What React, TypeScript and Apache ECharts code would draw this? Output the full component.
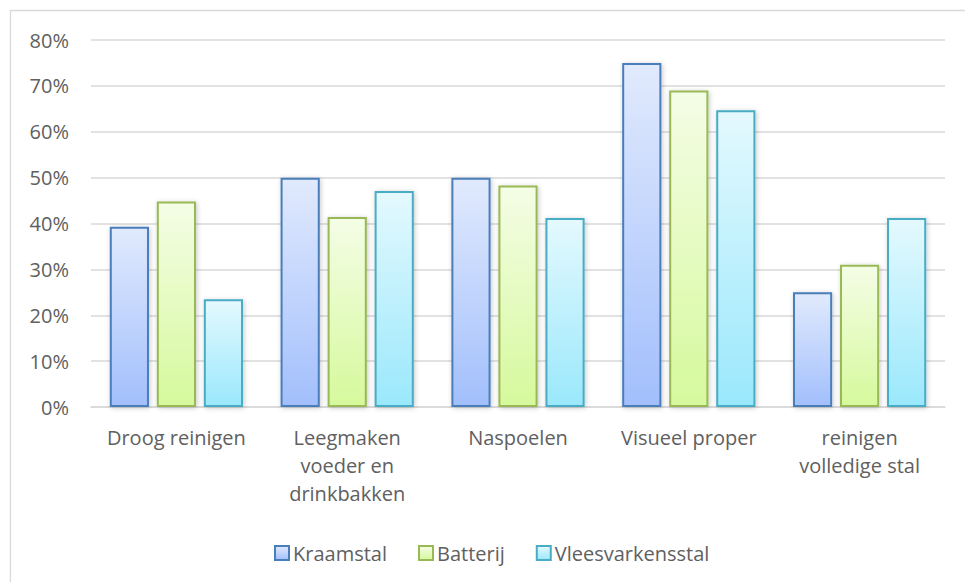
import React, { useEffect, useRef } from "react";
import * as echarts from "echarts";

const categories = [
  "Droog reinigen",
  "Leegmaken\nvoeder en\ndrinkbakken",
  "Naspoelen",
  "Visueel proper",
  "reinigen\nvolledige stal",
];
const seriesNames = ["Kraamstal", "Batterij", "Vleesvarkensstal"];
const kraamstal = [0.393, 0.5, 0.5, 0.75, 0.25];
const batterij = [0.448, 0.414, 0.483, 0.69, 0.31];
const vleesvarkensstal = [0.235, 0.471, 0.412, 0.647, 0.412];
const yTicks = [0, 0.1, 0.2, 0.3, 0.4, 0.5, 0.6, 0.7, 0.8];

const palettes = [
  { border: "#4a7ebb", top: "#e1eafd", bottom: "#a2bffc" },
  { border: "#98b954", top: "#f4fde6", bottom: "#d6f99c" },
  { border: "#4aacc5", top: "#e4f9fe", bottom: "#9ae8fc" },
];

const FONT = "'Open Sans', 'Noto Sans', sans-serif";
const TEXT = "#606060";

export default function App() {
  const ref = useRef<HTMLDivElement>(null);
  useEffect(() => {
    if (!ref.current) return;
    const chart = echarts.init(ref.current, null, { renderer: "svg" });
    const values = [kraamstal, batterij, vleesvarkensstal];
    const series = seriesNames.map((name, i) => ({
      name,
      type: "bar" as const,
      data: values[i],
      barGap: "20%",
      barCategoryGap: "22%",
      itemStyle: {
        color: new echarts.graphic.LinearGradient(0, 0, 0, 1, [
          { offset: 0, color: palettes[i].top },
          { offset: 1, color: palettes[i].bottom },
        ]),
        borderColor: palettes[i].border,
        borderWidth: 2,
        shadowBlur: 5,
        shadowColor: "rgba(0,0,0,0.22)",
        shadowOffsetX: 1,
        shadowOffsetY: 1,
      },
      emphasis: { disabled: true },
    }));
    chart.setOption({
      animation: false,
      textStyle: { fontFamily: FONT },
      graphic: [
        {
          type: "rect",
          shape: { x: 10.5, y: 10.5, width: 1400, height: 1400 },
          style: { fill: "none", stroke: "#d9d9d9", lineWidth: 1.3 },
          silent: true,
        },
      ],
      grid: { left: 91, right: 20, top: 40, bottom: 175 },
      legend: {
        left: 274,
        top: 543,
        padding: 0,
        itemWidth: 14,
        itemHeight: 14,
        itemGap: 31,
        icon: "rect",
        textStyle: { color: TEXT, fontSize: 20, fontFamily: FONT, padding: [0, 0, 0, -1] },
        data: seriesNames,
      },
      xAxis: {
        type: "category",
        data: categories,
        axisLine: { lineStyle: { color: "#d9d9d9", width: 1.5 } },
        axisTick: { show: false },
        axisLabel: {
          color: TEXT,
          fontSize: 20,
          fontFamily: FONT,
          lineHeight: 28,
          margin: 16,
          interval: 0,
        },
      },
      yAxis: {
        type: "value",
        min: 0,
        max: 0.8,
        interval: 0.1,
        axisLine: { show: false },
        axisTick: { show: false },
        splitLine: { lineStyle: { color: "#d9d9d9", width: 1.5 } },
        axisLabel: {
          color: TEXT,
          fontSize: 20,
          fontFamily: FONT,
          margin: 22,
          formatter: (v: number) => {
            const match = yTicks.find((t) => Math.abs(t - v) < 1e-9);
            return Math.round((match ?? v) * 100) + "%";
          },
        },
      },
      series,
    });
    return () => chart.dispose();
  }, []);
  return (
    <div
      ref={ref}
      style={{ position: "fixed", left: 0, top: 0, width: 965, height: 582, background: "#fff" }}
    />
  );
}
